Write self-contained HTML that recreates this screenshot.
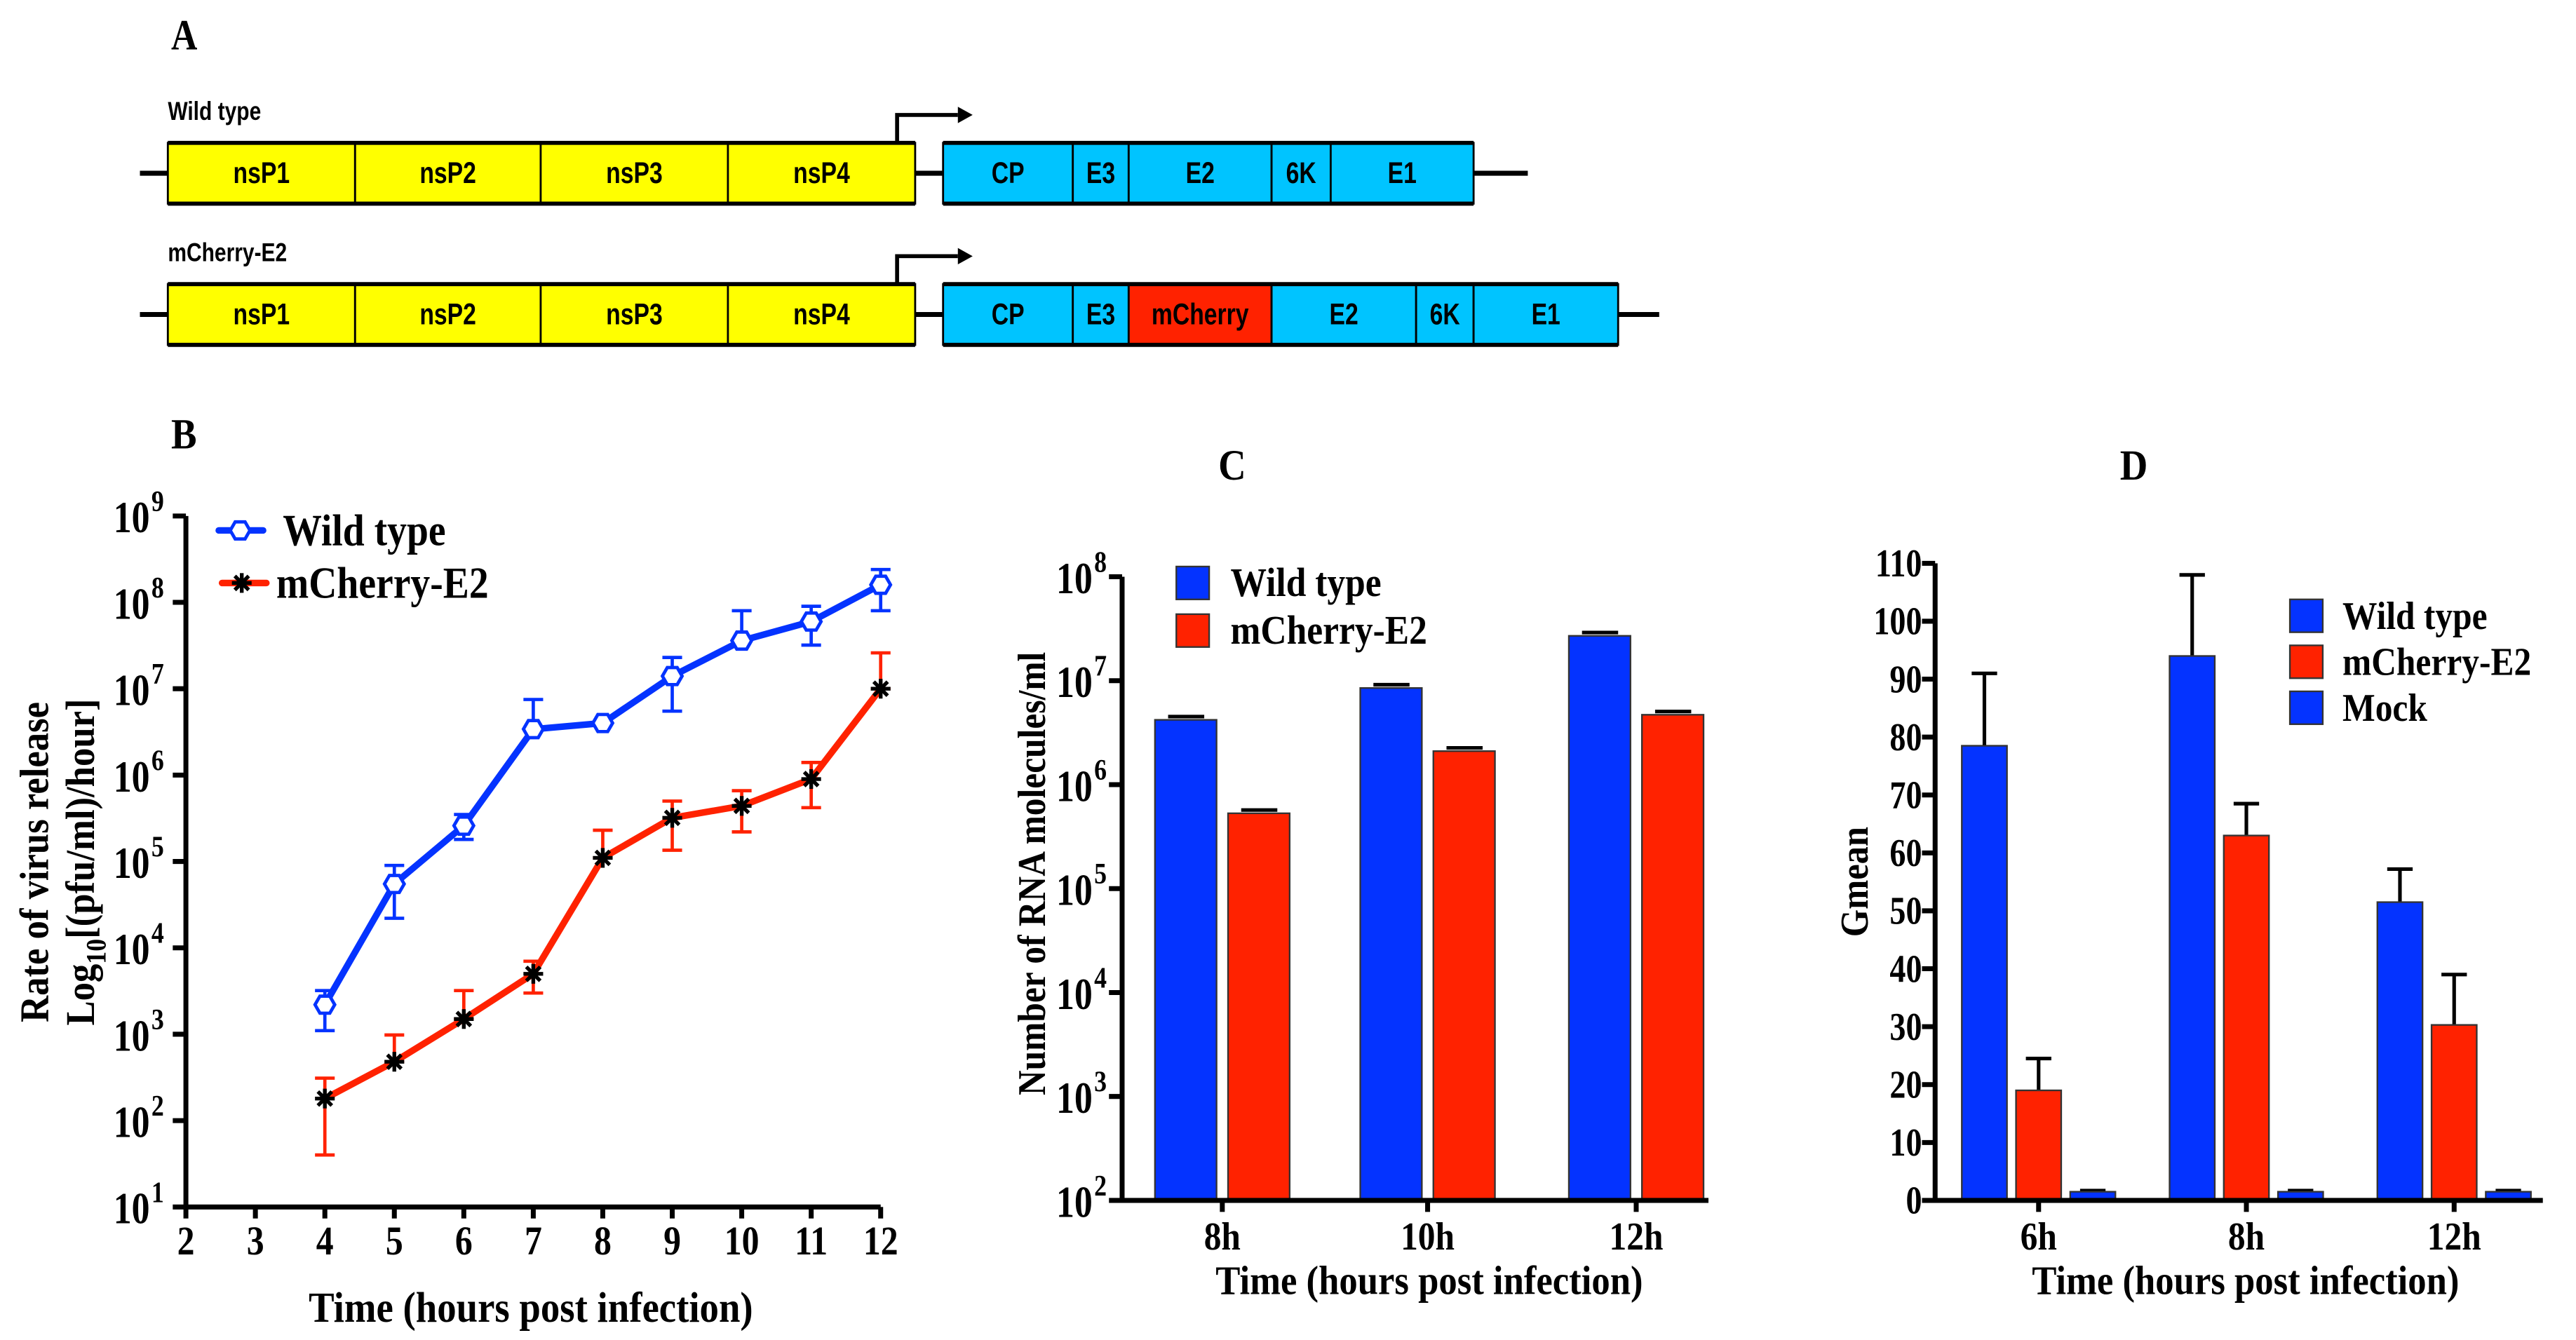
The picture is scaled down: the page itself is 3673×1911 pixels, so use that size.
<!DOCTYPE html>
<html><head><meta charset="utf-8">
<style>
html,body{margin:0;padding:0;background:#fff;}
svg{display:block;}
.ser{font-family:"Liberation Serif",serif;font-weight:bold;}
.san{font-family:"Liberation Sans",sans-serif;font-weight:bold;}
</style></head>
<body>
<svg id="fig" width="3673" height="1911" viewBox="0 0 1568 816" xmlns="http://www.w3.org/2000/svg">
<rect width="1568" height="816" fill="#fff"/>
<g id="panelA"></g>
<g id="panelB"></g>
<g id="panelC"></g>
<g id="panelD"></g>
</svg>
<script>
// ---- Panel B data ----
const bHours = [4,5,6,7,8,9,10,11,12];
const bWT = [2200,55000,260000,3400000,4000000,14000000,36000000,60000000,160000000];
const bWTlo = [1100,22000,180000,3400000,4000000,5500000,36000000,32000000,80000000];
const bWThi = [3200,90000,350000,7500000,4000000,23000000,80000000,90000000,240000000];
const bMC = [180,480,1500,5000,110000,320000,440000,900000,10000000];
const bMClo = [40,480,1500,3000,110000,135000,220000,420000,10000000];
const bMChi = [310,980,3200,7000,230000,500000,660000,1400000,26000000];
const bXTicks = [2,3,4,5,6,7,8,9,10,11,12];
const bYExp = [1,2,3,4,5,6,7,8,9];
// ---- Panel C data ----
const cCats = ["8h","10h","12h"];
const cWT = [4200000,8500000,27000000];
const cMC = [530000,2100000,4700000];
const cYExp = [2,3,4,5,6,7,8];
// ---- Panel D data ----
const dCats = ["6h","8h","12h"];
const dWT = [78.5,94,51.5];
const dWTerr = [12.5,14,5.7];
const dMC = [19,63,30.3];
const dMCerr = [5.5,5.5,8.7];
const dMock = [1.5,1.5,1.5];
const dMockErr = [0.2,0.2,0.2];
const dYTicks = [0,10,20,30,40,50,60,70,80,90,100,110];

const NS="http://www.w3.org/2000/svg";
function mk(parent,tag,attrs,text){const e=document.createElementNS(NS,tag);for(const k in attrs)e.setAttribute(k,attrs[k]);if(text!==undefined)e.textContent=text;parent.appendChild(e);return e;}
function ctext(parent,x,y,size,anchor,str,sx,cls){
  return mk(parent,'text',{x:0,y:0,transform:`translate(${x},${y}) scale(${sx},1)`,'font-size':size,'text-anchor':anchor,class:cls||'ser'},str);
}
const BLUE="#0433ff", RED="#ff2200";

// ---------------- Panel A ----------------
const A=document.getElementById('panelA');
let t=ctext(A,104,30,26,'start','A',0.85);


function geneRow(y0,label,ns,struct,lineEnd,rowName){
  const g=mk(A,'g',{});
  
  
  let lb=ctext(g,102,y0-14,16,'start',label,0.8,'san');
  
  
  const yc=y0+18.5;
  mk(g,'line',{x1:85,x2:lineEnd,y1:yc,y2:yc,stroke:'#000','stroke-width':3});
  const all=ns.concat(struct);
  all.forEach(s=>{
    const r=mk(g,'rect',{x:s[0],y:y0,width:s[1]-s[0],height:37,fill:s[3],stroke:'#000','stroke-width':1.2});
    
    
    const tx=ctext(g,(s[0]+s[1])/2,yc+6,18,'middle',s[2],0.8,'san');
    
    
  });
  mk(g,'line',{x1:102,x2:557,y1:y0,y2:y0,stroke:'#000','stroke-width':2.5});
  mk(g,'line',{x1:102,x2:557,y1:y0+37,y2:y0+37,stroke:'#000','stroke-width':2.5});
  const ce=struct[struct.length-1][1];
  mk(g,'line',{x1:574,x2:ce,y1:y0,y2:y0,stroke:'#000','stroke-width':2.5});
  mk(g,'line',{x1:574,x2:ce,y1:y0+37,y2:y0+37,stroke:'#000','stroke-width':2.5});
  const ar=mk(g,'path',{d:`M546 ${y0} V${y0-17} H583`,fill:'none',stroke:'#000','stroke-width':2.4});
  
  
  mk(g,'path',{d:`M583 ${y0-22} L592 ${y0-17} L583 ${y0-12} Z`,fill:'#000'});
}
const Y='#ffff00', C='#00c4ff';
const nsBoxes=[[102,216,'nsP1',Y],[216,329,'nsP2',Y],[329,443,'nsP3',Y],[443,557,'nsP4',Y]];
geneRow(87,'Wild type',nsBoxes,[[574,653,'CP',C],[653,687,'E3',C],[687,774,'E2',C],[774,810,'6K',C],[810,897,'E1',C]],930,'wild-type-gene-map');
geneRow(173,'mCherry-E2',nsBoxes,[[574,653,'CP',C],[653,687,'E3',C],[687,774,'mCherry',RED],[774,862,'E2',C],[862,897,'6K',C],[897,985,'E1',C]],1010,'mcherry-e2-gene-map');

// ---------------- Panel B ----------------
const B=document.getElementById('panelB');
const xB=h=>113+(h-2)*42.3;
const yB=v=>735-(Math.log10(v)-1)*52.6;
t=ctext(B,104,273,26,'start','B',0.9);


mk(B,'path',{d:`M113 ${yB(1e9)} V735 H536`,fill:'none',stroke:'#000','stroke-width':3});
bYExp.forEach(e=>{
  const y=yB(Math.pow(10,e));
  mk(B,'line',{x1:105,x2:113,y1:y,y2:y,stroke:'#000','stroke-width':3});
  const tx=ctext(B,91,y+10,27,'end','10',0.82);
  
  
  ctext(B,92,y-3,18,'start',String(e),0.85);
});
bXTicks.forEach(h=>{
  const x=xB(h);
  mk(B,'line',{x1:x,x2:x,y1:735,y2:742,stroke:'#000','stroke-width':3});
  const tx=ctext(B,x,764,25,'middle',String(h),0.85);
  
  
});
t=ctext(B,323,805,26,'middle','Time (hours post infection)',0.9);


t=mk(B,'text',{transform:'translate(29,525) rotate(-90) scale(0.9,1)','font-size':25,'text-anchor':'middle',class:'ser'},'Rate of virus release');


t=mk(B,'text',{transform:'translate(57,525) rotate(-90) scale(0.9,1)','font-size':25,'text-anchor':'middle',class:'ser'});


mk(t,'tspan',{},'Log');mk(t,'tspan',{dy:7,'font-size':17},'10');mk(t,'tspan',{dy:-7},'[(pfu/ml)/hour]');
function errbar(g,x,lo,hi,col){
  mk(g,'line',{x1:x,x2:x,y1:yB(lo),y2:yB(hi),stroke:col,'stroke-width':2});
  mk(g,'line',{x1:x-6,x2:x+6,y1:yB(hi),y2:yB(hi),stroke:col,'stroke-width':2});
  mk(g,'line',{x1:x-6,x2:x+6,y1:yB(lo),y2:yB(lo),stroke:col,'stroke-width':2});
}
function hexMarker(g,x,y){
  const r=6;let p='';for(let i=0;i<6;i++){const a=Math.PI/3*i;p+=(i?'L':'M')+(x+r*Math.cos(a)).toFixed(1)+' '+(y+r*Math.sin(a)).toFixed(1);}
  return mk(g,'path',{d:p+'Z',fill:'#fff',stroke:BLUE,'stroke-width':2});
}
function star(g,x,y,col){
  const s=mk(g,'g',{});
  for(let i=0;i<4;i++){const a=Math.PI/4*i;mk(s,'line',{x1:x-6*Math.cos(a),y1:y-6*Math.sin(a),x2:x+6*Math.cos(a),y2:y+6*Math.sin(a),stroke:col,'stroke-width':2.3});}
  return s;
}
const gMC=mk(B,'g',{});


bHours.forEach((h,i)=>errbar(gMC,xB(h),bMClo[i],bMChi[i],RED));
let ln=mk(gMC,'polyline',{points:bHours.map((h,i)=>xB(h)+','+yB(bMC[i])).join(' '),fill:'none',stroke:RED,'stroke-width':4,'stroke-linejoin':'round'});


bHours.forEach((h,i)=>{const s=star(gMC,xB(h),yB(bMC[i]),'#000');
  
  });
const gWT=mk(B,'g',{});


bHours.forEach((h,i)=>errbar(gWT,xB(h),bWTlo[i],bWThi[i],BLUE));
ln=mk(gWT,'polyline',{points:bHours.map((h,i)=>xB(h)+','+yB(bWT[i])).join(' '),fill:'none',stroke:BLUE,'stroke-width':4,'stroke-linejoin':'round'});


bHours.forEach((h,i)=>{const m=hexMarker(gWT,xB(h),yB(bWT[i]));
  
  });
// legend B
let lg=mk(B,'g',{});


mk(lg,'line',{x1:133,x2:160,y1:323,y2:323,stroke:BLUE,'stroke-width':4,'stroke-linecap':'round'});
hexMarker(lg,146,323);
ctext(lg,172,332,27,'start','Wild type',0.88);
mk(lg,'line',{x1:135,x2:162,y1:355,y2:355,stroke:RED,'stroke-width':4,'stroke-linecap':'round'});
star(lg,147,355,'#000');
ctext(lg,168,364,27,'start','mCherry-E2',0.88);

// ---------------- Panel C ----------------
const Cg=document.getElementById('panelC');
const yC=v=>731-(Math.log10(v)-2)*63.3;
const cCenters=[744,869,996];
t=ctext(Cg,750,292,26,'middle','C',0.9);


cCats.forEach((c,i)=>{
  const cx=cCenters[i];
  [[cWT[i],BLUE,-41,'wild-type'],[cMC[i],RED,3.5,'mcherry-e2']].forEach(s=>{
    const x0=cx+s[2];
    const y=yC(s[0]);
    mk(Cg,'line',{x1:x0+8,x2:x0+30,y1:y-2,y2:y-2,stroke:'#000','stroke-width':2.2});
    const r=mk(Cg,'rect',{x:x0,y:y,width:37.5,height:731-y,fill:s[1],stroke:'#333','stroke-width':1});
    
    
  });
  mk(Cg,'line',{x1:cx,x2:cx,y1:731,y2:738,stroke:'#000','stroke-width':3});
  const tx=ctext(Cg,cx,761,24,'middle',c,0.88);
  
  
});
mk(Cg,'path',{d:`M683 ${yC(1e8)} V731 H1040`,fill:'none',stroke:'#000','stroke-width':3});
cYExp.forEach(e=>{
  const y=yC(Math.pow(10,e));
  mk(Cg,'line',{x1:675,x2:683,y1:y,y2:y,stroke:'#000','stroke-width':3});
  const tx=ctext(Cg,665,y+10,27,'end','10',0.82);
  
  
  ctext(Cg,666,y-3,18,'start',String(e),0.85);
});
t=ctext(Cg,870,788,25,'middle','Time (hours post infection)',0.9);


t=mk(Cg,'text',{transform:'translate(636,532) rotate(-90) scale(0.88,1)','font-size':24,'text-anchor':'middle',class:'ser'},'Number of RNA molecules/ml');


lg=mk(Cg,'g',{});


mk(lg,'rect',{x:716,y:345,width:20,height:20,fill:BLUE,stroke:'#333','stroke-width':1});
ctext(lg,749,363,25,'start','Wild type',0.88);
mk(lg,'rect',{x:716,y:374,width:20,height:20,fill:RED,stroke:'#333','stroke-width':1});
ctext(lg,749,392,25,'start','mCherry-E2',0.88);

// ---------------- Panel D ----------------
const Dg=document.getElementById('panelD');
const yD=v=>731-v*3.527;
const dCenters=[1241,1367.5,1494];
t=ctext(Dg,1299,292,26,'middle','D',0.9);


dCats.forEach((c,i)=>{
  const cx=dCenters[i];
  [[dWT[i],dWTerr[i],BLUE,-1,'wild-type'],[dMC[i],dMCerr[i],RED,0,'mcherry-e2'],[dMock[i],dMockErr[i],BLUE,1,'mock']].forEach(s=>{
    const x0=cx+s[3]*33-13.75;
    const y=yD(s[0]), ye=yD(s[0]+s[1]);
    mk(Dg,'line',{x1:x0+13.75,x2:x0+13.75,y1:y,y2:ye,stroke:'#000','stroke-width':2.2});
    mk(Dg,'line',{x1:x0+6,x2:x0+21.5,y1:ye,y2:ye,stroke:'#000','stroke-width':2.2});
    const r=mk(Dg,'rect',{x:x0,y:y,width:27.5,height:731-y,fill:s[2],stroke:'#333','stroke-width':1});
    
    
  });
  mk(Dg,'line',{x1:cx,x2:cx,y1:731,y2:738,stroke:'#000','stroke-width':3});
  const tx=ctext(Dg,cx,761,24,'middle',c,0.88);
  
  
});
mk(Dg,'path',{d:`M1178 ${yD(110)} V731 H1548`,fill:'none',stroke:'#000','stroke-width':3});
dYTicks.forEach(v=>{
  const y=yD(v);
  mk(Dg,'line',{x1:1170,x2:1178,y1:y,y2:y,stroke:'#000','stroke-width':3});
  const tx=ctext(Dg,1170,y+8,24,'end',String(v),0.82);
  
  
});
t=ctext(Dg,1367,788,25,'middle','Time (hours post infection)',0.9);


t=mk(Dg,'text',{transform:'translate(1137,537) rotate(-90) scale(0.9,1)','font-size':24,'text-anchor':'middle',class:'ser'},'Gmean');


lg=mk(Dg,'g',{});


[['Wild type',BLUE,365],['mCherry-E2',RED,393],['Mock',BLUE,421]].forEach(e=>{
  mk(lg,'rect',{x:1394,y:e[2],width:20,height:20,fill:e[1],stroke:'#333','stroke-width':1});
  ctext(lg,1426,e[2]+18,24,'start',e[0],0.88);
});
</script>
</body></html>
